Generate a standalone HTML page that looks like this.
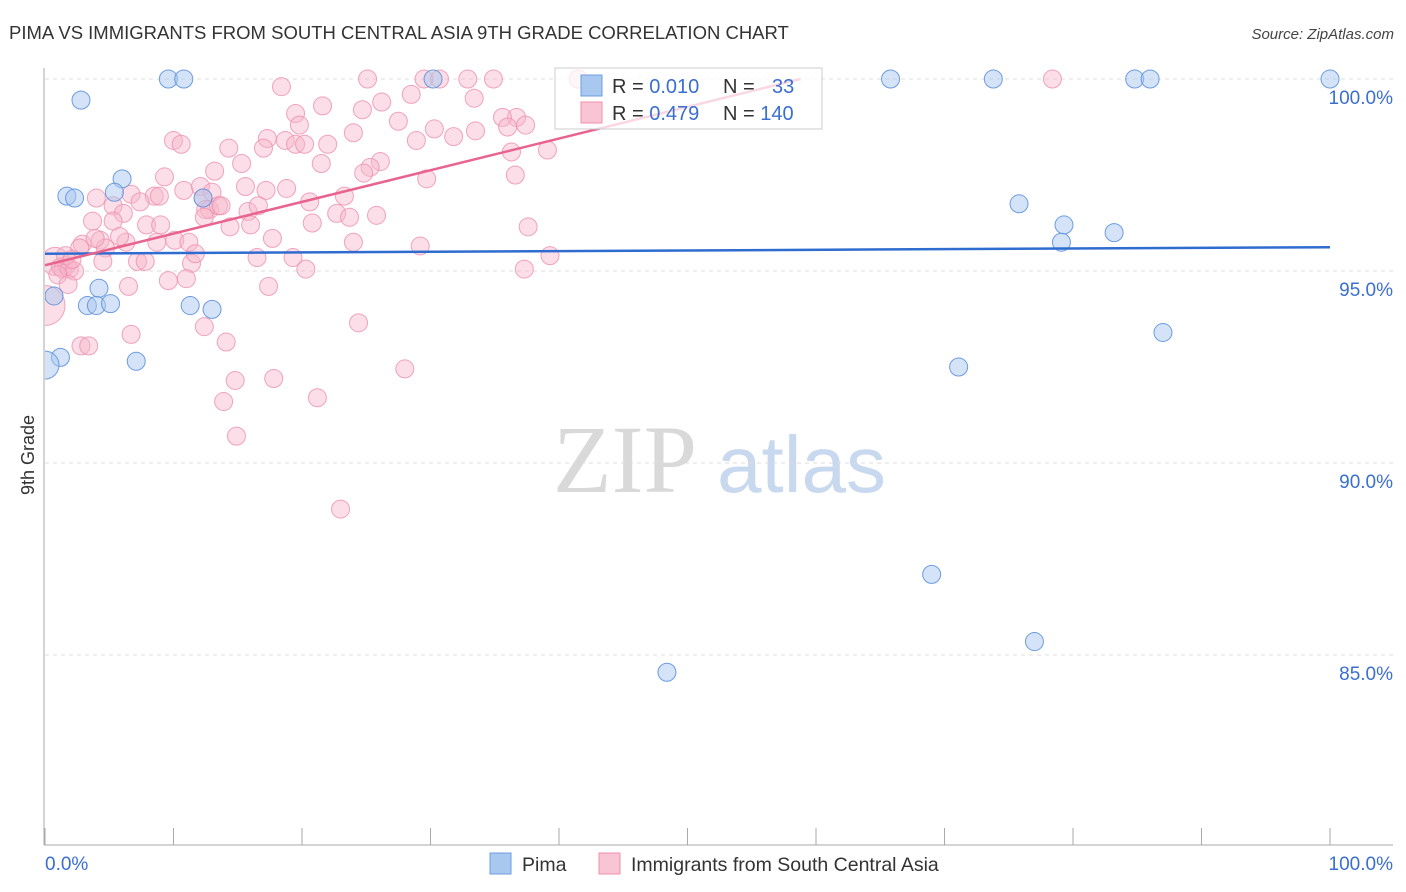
<!DOCTYPE html>
<html><head><meta charset="utf-8"><style>
body{margin:0;background:#fff;font-family:"Liberation Sans",sans-serif;}
#wrap{position:relative;width:1406px;height:892px;overflow:hidden;}
</style></head><body>
<div id="wrap">
<svg id="svg" width="1406" height="892" xmlns="http://www.w3.org/2000/svg">
<defs><clipPath id="plotclip"><rect x="45" y="40" width="1360" height="805"/></clipPath></defs>
<text x="9" y="39" font-size="18.5" fill="#333">PIMA VS IMMIGRANTS FROM SOUTH CENTRAL ASIA 9TH GRADE CORRELATION CHART</text>
<text x="1394" y="39" font-size="15" fill="#444" font-style="italic" text-anchor="end">Source: ZipAtlas.com</text>
<g>
<text x="553" y="492" font-size="96" fill="#d9d9d9" font-family="Liberation Serif,serif">ZIP</text>
<text x="717" y="492" font-size="80" fill="#c8d8ef">atlas</text>
</g>
<g id="grid"></g>
<g id="axes"></g>
<g id="pts" clip-path="url(#plotclip)"></g>
<g id="trend"></g>
<text x="34" y="455" font-size="18" fill="#333" text-anchor="middle" transform="rotate(-90 34 455)">9th Grade</text>
<g>
<rect x="555" y="68" width="267" height="61" fill="#fff" fill-opacity="0.75" stroke="#ccc"/>
<rect x="581" y="75" width="21" height="21" fill="#a9c8f0" stroke="#6e9ee0"/>
<text x="612" y="93" font-size="20" fill="#333">R = <tspan fill="#3a6fd0">0.010</tspan></text>
<text x="723" y="93" font-size="20" fill="#333">N = <tspan fill="#3a6fd0" x="772">33</tspan></text>
<rect x="581" y="102" width="21" height="21" fill="#f9c4d4" stroke="#ef8fae"/>
<text x="612" y="120" font-size="20" fill="#333">R = <tspan fill="#3a6fd0">0.479</tspan></text>
<text x="723" y="120" font-size="20" fill="#333">N = <tspan fill="#3a6fd0">140</tspan></text>
</g>
<g>
<rect x="490" y="853" width="21" height="21" fill="#a9c8f0" stroke="#6e9ee0"/>
<text x="522" y="871" font-size="19.5" fill="#333">Pima</text>
<rect x="599" y="853" width="21" height="21" fill="#f9c4d4" stroke="#ef8fae"/>
<text x="631" y="871" font-size="19.5" fill="#333">Immigrants from South Central Asia</text>
</g>
</svg>
</div>
<script>
const yTicks=[100,95,90,85];
const yTickLabels=["100.0%","95.0%","90.0%","85.0%"];
const xTicks=[0,10,20,30,40,50,60,70,80,90,100];
const xLabels=["0.0%","100.0%"];
const pinkX=[18.4,25.1,29.5,30.7,32.9,34.9,41.5,78.4,28.5,33.4,26.2,21.6,24.7,19.5,19.8,27.5,36.7,35.6,37.4,36.0,30.3,31.8,33.5,24.0,10.0,10.6,17.3,18.7,19.5,17.0,20.2,22.0,28.9,14.3,39.1,36.3,15.3,21.5,26.1,25.3,13.2,24.8,9.3,36.6,29.7,4.0,6.7,8.5,8.9,10.8,12.1,13.0,15.6,17.2,18.8,23.3,12.3,20.6,12.8,12.5,13.5,13.7,5.3,7.4,6.1,15.8,16.6,22.7,23.7,25.8,3.7,5.3,7.9,9.0,12.4,14.4,16.0,20.8,37.6,2.9,4.3,6.3,2.7,4.7,8.7,10.1,11.2,5.8,3.9,17.7,24.0,29.2,7.2,4.5,7.8,11.4,11.7,16.5,19.3,39.3,37.3,20.3,9.6,11.0,6.5,17.4,12.4,6.7,2.8,3.4,14.1,24.4,14.8,17.8,28.0,13.9,21.2,14.9,23.0,0.8,1.2,1.4,1.7,1.9,2.3,1.0,1.8,1.6,2.1,0.0];
const pinkY=[99.8,100,100,100,100,100,100,100,99.6,99.5,99.4,99.3,99.2,99.1,98.8,98.9,99.0,99.0,98.8,98.75,98.7,98.5,98.65,98.6,98.4,98.3,98.45,98.4,98.3,98.2,98.3,98.3,98.4,98.2,98.15,98.1,97.8,97.8,97.85,97.7,97.6,97.55,97.45,97.5,97.4,96.9,97.0,96.95,96.95,97.1,97.2,97.05,97.2,97.1,97.15,96.95,96.9,96.8,96.6,96.6,96.7,96.7,96.7,96.8,96.5,96.55,96.7,96.5,96.4,96.45,96.3,96.3,96.2,96.2,96.4,96.15,96.2,96.25,96.15,95.7,95.8,95.75,95.6,95.6,95.75,95.8,95.75,95.9,95.85,95.85,95.75,95.65,95.25,95.25,95.25,95.2,95.45,95.35,95.35,95.4,95.05,95.05,94.75,94.8,94.6,94.6,93.55,93.35,93.05,93.05,93.15,93.65,92.15,92.2,92.45,91.6,91.7,90.7,88.8,95.25,95.1,95.05,95.15,95.05,95.0,94.9,94.65,95.4,95.3,94.1];
const pinkSize=[];for(let i=0;i<pinkX.length;i++)pinkSize.push(9);
pinkSize[pinkX.length-1]=20;pinkSize[pinkX.length-11]=14;
const blueX=[9.6,10.8,30.2,65.8,73.8,84.8,86.0,100,2.8,6.0,5.4,1.7,2.3,12.3,75.8,79.3,83.2,79.1,0.7,4.2,3.3,4.0,5.1,11.3,13.0,87.0,1.2,7.1,0,71.1,69.0,77.0,48.4];
const blueY=[100,100,100,100,100,100,100,100,99.45,97.4,97.05,96.95,96.9,96.9,96.75,96.2,96.0,95.75,94.35,94.55,94.1,94.1,94.15,94.1,94.0,93.4,92.75,92.65,92.55,92.5,87.1,85.35,84.55];
const blueSize=blueX.map((v,i)=>i===28?14:9);
const blueTrend=[95.45,95.62];
const pinkTrend=[95.15,100,58.8];
const NS="http://www.w3.org/2000/svg";
const sx=v=>45+v*12.85, sy=v=>79+(100-v)*38.4;
function mk(p,tag,a){const e=document.createElementNS(NS,tag);for(const k in a)e.setAttribute(k,a[k]);p.appendChild(e);return e;}
const grid=document.getElementById('grid'),axes=document.getElementById('axes'),pts=document.getElementById('pts'),tr=document.getElementById('trend');
yTicks.forEach((t,i)=>{
 const l=mk(grid,'line',{x1:45,x2:1393,y1:sy(t),y2:sy(t),stroke:'#ddd','stroke-dasharray':'4,4'});
 
 
 const tx=mk(axes,'text',{x:1393,y:sy(t)+25,'font-size':19,fill:'#3a6fd0','text-anchor':'end'});tx.textContent=yTickLabels[i];
 
 
});
const al=mk(axes,'line',{x1:44,x2:44,y1:68,y2:845,stroke:'#aaa'});


const bl=mk(axes,'line',{x1:44,x2:1393,y1:845,y2:845,stroke:'#aaa'});


xTicks.forEach(t=>{const l=mk(axes,'line',{x1:sx(t),x2:sx(t),y1:828,y2:845,stroke:'#aaa'});
 
 });
[[0,'start',45],[1,'end',1393]].forEach(([i,a,x])=>{const t=mk(axes,'text',{x:x,y:870,'font-size':19,fill:'#3a6fd0','text-anchor':a});t.textContent=xLabels[i];
 
 });
pinkX.forEach((v,i)=>{const c=mk(pts,'circle',{cx:sx(v),cy:sy(pinkY[i]),r:pinkSize[i],fill:'#f7b6c9','fill-opacity':0.45,stroke:'#ee8fae','stroke-opacity':0.8});
 
 });
blueX.forEach((v,i)=>{const c=mk(pts,'circle',{cx:sx(v),cy:sy(blueY[i]),r:blueSize[i],fill:'#a9c8f0','fill-opacity':0.5,stroke:'#5f92de','stroke-opacity':0.9});
 
 });
const bt=mk(tr,'line',{x1:sx(0),x2:sx(100),y1:sy(blueTrend[0]),y2:sy(blueTrend[1]),stroke:'#2f6cd0','stroke-width':2.5});


const pt=mk(tr,'line',{x1:sx(0),x2:sx(pinkTrend[2]),y1:sy(pinkTrend[0]),y2:sy(pinkTrend[1]),stroke:'#e8638e','stroke-width':2.5});


</script>
</body></html>
